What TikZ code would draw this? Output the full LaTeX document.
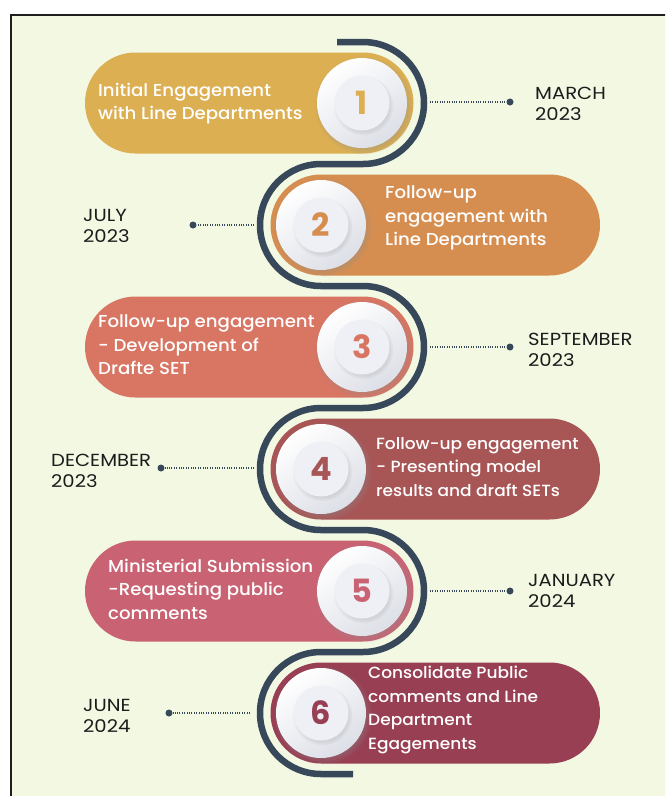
\documentclass[tikz,border=0pt]{standalone}
\usepackage{fontspec}
\setmainfont{Poppins}[FakeStretch=1.12]
\IfFontExistsTF{Poppins Medium}{\newfontfamily\pmed{Poppins Medium}[FakeStretch=1.05]}{\newfontfamily\pmed{Poppins}[FakeStretch=1.05]}
\IfFontExistsTF{Poppins Bold}{\newfontfamily\pbold{Poppins Bold}}{\newfontfamily\pbold{Poppins}[FakeBold=2]}
\usetikzlibrary{shapes.misc,shadows}
\definecolor{bgcol}{HTML}{F3F8E2}
\definecolor{framecol}{HTML}{1E1E1E}
\definecolor{snakecol}{HTML}{37485B}
\definecolor{cA}{HTML}{DCAF52}
\definecolor{cB}{HTML}{D68E50}
\definecolor{cC}{HTML}{D87563}
\definecolor{cD}{HTML}{A85556}
\definecolor{cE}{HTML}{C96373}
\definecolor{cF}{HTML}{983F54}
\definecolor{discedge}{HTML}{DDDFE7}
\definecolor{innerfill}{HTML}{EEF0F5}
\definecolor{datecol}{HTML}{1C1C1C}
\tikzset{
  pill/.style={rounded rectangle, minimum height=101pt, inner sep=0pt, draw=none},
  disc/.style={circle, minimum size=90pt, inner sep=0pt, top color=white, bottom color=discedge, shading angle=35,
    circular drop shadow={shadow xshift=1.5pt, shadow yshift=-2pt, opacity=0.35, fill=black!45}},
  innerdisc/.style={circle, minimum size=55pt, inner sep=0pt, fill=innerfill,
    circular drop shadow={shadow xshift=1.2pt, shadow yshift=-2pt, opacity=0.25, fill=black!40},
    font=\pbold\fontsize{32}{32}\selectfont},
  pilltext/.style={anchor=west, inner sep=0pt, align=left, text=white,
    font=\pmed\fontsize{17.3}{23.5}\selectfont},
  smalltext/.style={pilltext, font=\pmed\fontsize{16.2}{23.5}\selectfont},
  datetext/.style={anchor=west, inner sep=0pt, align=left, text=datecol,
    font=\fontsize{17.5}{21}\selectfont},
  snakeline/.style={draw=snakecol, line width=6.5pt},
  dotline/.style={draw=snakecol, line width=1.2pt, dash pattern=on 1pt off 1.4pt},
  dotend/.style={circle, fill=snakecol, minimum size=7pt, inner sep=0pt},
}
\begin{document}
\begin{tikzpicture}[x=1pt,y=-1pt]
\useasboundingbox (0,0) rectangle (665,796);
\fill[white] (0,0) rectangle (665,796);
\begin{scope}
  \clip (0,0) rectangle (665,796);
  \draw[line width=1.8pt, draw=framecol, fill=bgcol] (11,15) rectangle (720,840);
\end{scope}

% snake
\draw[snakeline] (337,42) -- (363,42)
  arc[start angle=90, end angle=-90, radius=61pt] -- (321,164)
  arc[start angle=90, end angle=270, radius=61pt] -- (363,286)
  arc[start angle=90, end angle=-90, radius=61pt] -- (321,408)
  arc[start angle=90, end angle=270, radius=61pt] -- (363,530)
  arc[start angle=90, end angle=-90, radius=61pt] -- (321,652)
  arc[start angle=90, end angle=270, radius=61pt] -- (353,774);

% pills
\node[pill, fill=cA, minimum width=328.5pt] (p1) at (249.25,103) {};
\node[pill, fill=cB, minimum width=329.5pt] (p2) at (435.25,225) {};
\node[pill, fill=cC, minimum width=328.5pt] (p3) at (249.25,347) {};
\node[pill, fill=cD, minimum width=329.5pt] (p4) at (435.25,469) {};
\node[pill, fill=cE, minimum width=328.5pt] (p5) at (249.25,591) {};
\node[pill, fill=cF, minimum width=329.5pt] (p6) at (435.25,713) {};

% discs
\node[disc] (o1) at (362,103) {};
\node[disc] (o2) at (321,225) {};
\node[disc] (o3) at (362,347) {};
\node[disc] (o4) at (321,469) {};
\node[disc] (o5) at (362,591) {};
\node[disc] (o6) at (321,713) {};
\node[innerdisc, text=cA] (n1) at (o1) {1};
\node[innerdisc, text=cB] (n2) at (o2) {2};
\node[innerdisc, text=cC] (n3) at (o3) {3};
\node[innerdisc, text=cD] (n4) at (o4) {4};
\node[innerdisc, text=cE] (n5) at (o5) {5};
\node[innerdisc, text=cF] (n6) at (o6) {6};

% pill texts
\node[pilltext] (t1) at (98,103.5) {Initial Engagement\\with Line Departments};
\node[pilltext] (t2) at (385,218) {Follow-up\\engagement with\\Line Departments};
\node[pilltext] (t3) at (98,345) {Follow-up engagement\\- Development of\\Drafte SET};
\node[smalltext] (t4) at (376,467) {Follow-up engagement\\- Presenting model\\results and draft SETs};
\node[pilltext] (t5) at (108,589) {Ministerial Submission\\-Requesting public\\comments};
\node[smalltext] (t6) at (368,710) {Consolidate Public\\comments and Line\\Department\\Egagements};

% connectors and dates
\coordinate (a1) at (430,102);
\node[dotend] (d1) at (510,102) {};
\draw[dotline] (a1) -- (d1);
\node[datetext] (m1) at (535,104) {MARCH\\2023};

\coordinate (a2) at (254,225);
\node[dotend] (d2) at (193,225) {};
\draw[dotline] (a2) -- (d2);
\node[datetext] (m2) at (83,226) {JULY\\2023};

\coordinate (a3) at (430,347);
\node[dotend] (d3) at (510,347) {};
\draw[dotline] (a3) -- (d3);
\node[datetext] (m3) at (528,350) {SEPTEMBER\\2023};

\coordinate (a4) at (254,468);
\node[dotend] (d4) at (161,468) {};
\draw[dotline] (a4) -- (d4);
\node[datetext] (m4) at (51,471) {DECEMBER\\2023};

\coordinate (a5) at (430,591);
\node[dotend] (d5) at (510,591) {};
\draw[dotline] (a5) -- (d5);
\node[datetext] (m5) at (528,591) {JANUARY\\2024};

\coordinate (a6) at (250,713);
\node[dotend] (d6) at (169,713) {};
\draw[dotline] (a6) -- (d6);
\node[datetext] (m6) at (83,716) {JUNE\\2024};
\end{tikzpicture}
\end{document}
